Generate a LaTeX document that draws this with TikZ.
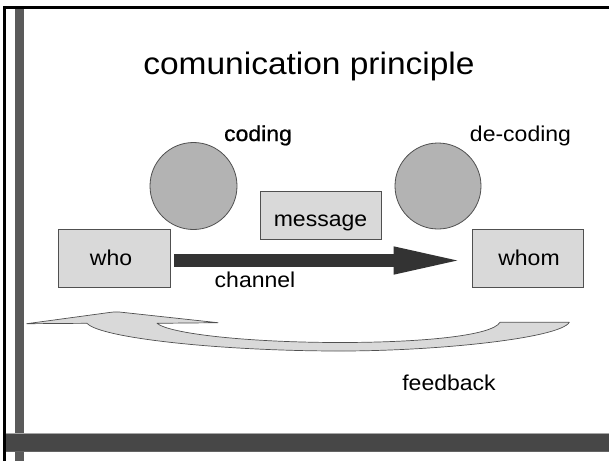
\documentclass[tikz,border=0pt]{standalone}
\usepackage{fontspec}
\setmainfont{Liberation Sans}
\newfontfamily\lblfont[FakeStretch=1.07]{Liberation Sans}
\newfontfamily\lblboldfont[FakeStretch=1.07,FakeBold=0.8]{Liberation Sans}
\newfontfamily\ttlfont[FakeStretch=1.08]{Liberation Sans}
\usetikzlibrary{arrows.meta}
\definecolor{boxfill}{HTML}{D9D9D9}
\definecolor{discfill}{HTML}{B3B3B3}
\definecolor{edgecol}{HTML}{505050}
\definecolor{chancol}{HTML}{333333}
\definecolor{sidebar}{HTML}{5A5A5A}
\definecolor{bottombar}{HTML}{474747}
\tikzset{
  lbl/.style={font=\lblfont\fontsize{21.5}{25}\selectfont, inner sep=0pt, anchor=base, text=black},
  ttl/.style={font=\ttlfont\fontsize{31}{36}\selectfont, inner sep=0pt, anchor=base, text=black},
  box/.style={draw=edgecol, fill=boxfill, line width=0.8pt, rectangle, inner sep=0pt},
  disc/.style={draw=edgecol, fill=discfill, line width=0.8pt, circle, inner sep=0pt},
  chan/.style={draw=chancol, line width=12.5pt, -{Triangle[length=74pt,width=24pt]}},
  fback/.style={draw=edgecol, fill=boxfill, line width=0.7pt, line join=round}
}
\begin{document}
\begin{tikzpicture}[x=1pt,y=-1pt]
\useasboundingbox (0,0) rectangle (609,461);
\fill[white] (0,0) rectangle (609,461);
% frame
\fill[sidebar] (15,8) rectangle (24,461);
\fill[black] (3,5.8) rectangle (609,8.5);
\fill[black] (3,5.8) rectangle (5.5,461);
\fill[bottombar] (5.5,433) rectangle (609,452);
\draw[gray!70, line width=0.8pt] (5.5,433.4) -- (609,433.4);
\draw[gray!50!bottombar, line width=0.6pt] (5.5,451.7) -- (609,451.7);
% title
\node[ttl] (title) at (309,74.5) {comunication principle};
% shapes
\node[disc, minimum size=87pt] (enc) at (193.5,186) {};
\node[disc, minimum size=86pt] (dec) at (438,186) {};
\node[box, minimum width=121pt, minimum height=48pt] (msg) at (320.5,215) {};
\node[box, minimum width=112pt, minimum height=58pt] (who) at (114,258) {};
\node[box, minimum width=111pt, minimum height=58pt] (whom) at (527.5,258) {};
% labels
\node[lbl, font=\lblboldfont\fontsize{21.5}{25}\selectfont] (coding) at (258,141) {coding};
\node[lbl] (decoding) at (520.5,141) {de-coding};
\node[lbl] (msgtxt) at (320.5,226.5) {message};
\node[lbl] (whotxt) at (111,265) {who};
\node[lbl] (whomtxt) at (529,265) {whom};
\node[lbl] (channel) at (255,287.3) {channel};
\node[lbl] (feedback) at (449,390.7) {feedback};
% channel arrow
\draw[chan] ([shift={(4pt,-2.5pt)}]who.east) -- ([shift={(-4pt,-2.5pt)}]whom.west);
% feedback arrow
\draw[fback] (26.7,323.7) -- (110,312.4) .. controls (114,311.8) and (119,311.8) .. (123,312.4)
  -- (218,322.7) -- (157,323.3)
  .. controls (170,334) and (250,342.5) .. (340,342.5)
  .. controls (420,342.5) and (492,336) .. (500,322.3)
  -- (569.3,322.3)
  .. controls (560,338) and (440,351) .. (340,351)
  .. controls (220,351) and (100,338) .. (87,323.3)
  -- cycle;
\end{tikzpicture}
\end{document}
